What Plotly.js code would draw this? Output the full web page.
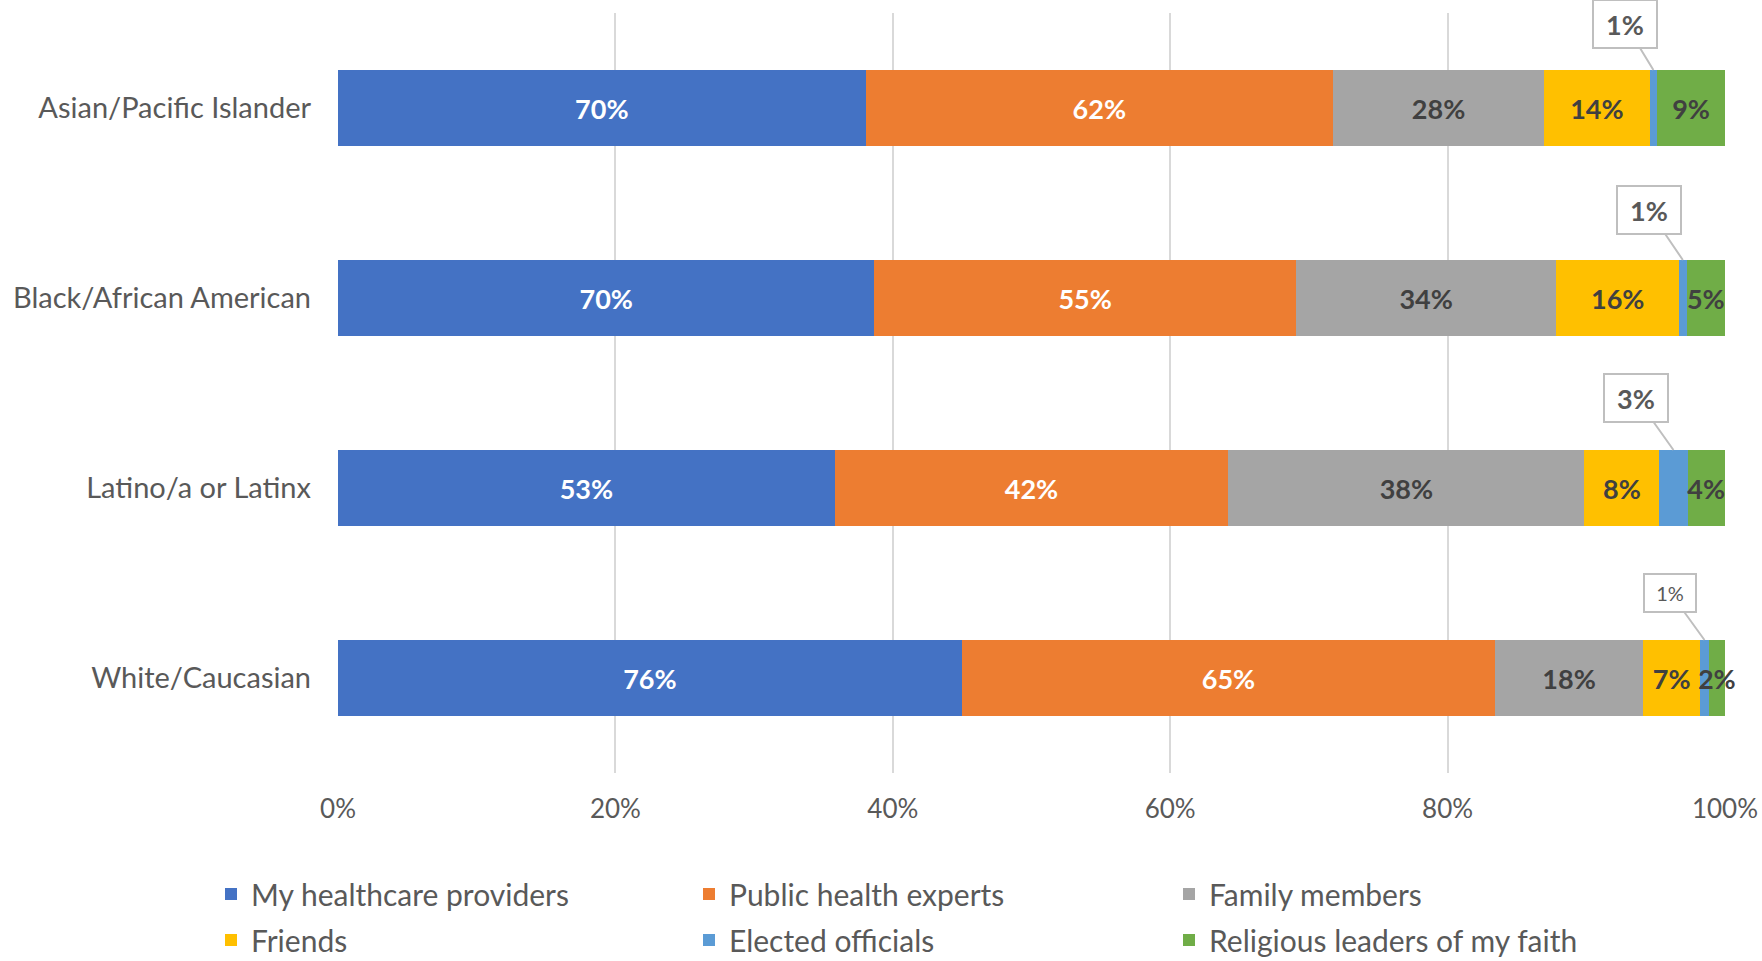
<!DOCTYPE html>
<html>
<head>
<meta charset="utf-8">
<script src="https://cdn.plot.ly/plotly-3.0.1.min.js"></script>
<style>html,body{margin:0;padding:0;background:#fff;}#chart{width:1762px;height:961px;}</style>
</head>
<body>
<div id="chart"></div>
<script>
const categories = ['Asian/Pacific Islander', 'Black/African American', 'Latino/a or Latinx', 'White/Caucasian'];
const seriesNames = ['My healthcare providers', 'Public health experts', 'Family members', 'Friends', 'Elected officials', 'Religious leaders of my faith'];
const healthcareProviders = [70, 70, 53, 76];
const publicHealthExperts = [62, 55, 42, 65];
const familyMembers = [28, 34, 38, 18];
const friends = [14, 16, 8, 7];
const electedOfficials = [1, 1, 3, 1];
const religiousLeaders = [9, 5, 4, 2];
const xTickVals = [0, 20, 40, 60, 80, 100];
const xTickText = ['0%', '20%', '40%', '60%', '80%', '100%'];

const seriesValues = [healthcareProviders, publicHealthExperts, familyMembers, friends, electedOfficials, religiousLeaders];
const colors = ['#4472C4', '#ED7D31', '#A5A5A5', '#FFC000', '#5B9BD5', '#70AD47'];
const textColors = ['#FFFFFF', '#FFFFFF', '#404040', '#404040', '#404040', '#404040'];
const FONT = 'Lato, "Open Sans", sans-serif';
const bargap = 0.6;

const legendIds = ['legend', 'legend2', 'legend3', 'legend4', 'legend5', 'legend6'];

const traces = seriesValues.map((vals, i) => ({
  type: 'bar',
  orientation: 'h',
  name: seriesNames[i],
  y: categories,
  x: vals,
  marker: {color: colors[i], line: {width: 0}},
  text: i === 4 ? vals.map(() => '') : vals.map(v => v + '%'),
  textposition: i === 4 ? 'none' : 'inside',
  insidetextanchor: 'middle',
  textangle: 0,
  constraintext: 'none',
  cliponaxis: false,
  textfont: {family: FONT, size: 27, color: textColors[i], weight: 'bold'},
  hoverinfo: 'skip',
  legend: legendIds[i]
}));

// callouts for elected officials
const totals = categories.map((c, k) => seriesValues.reduce((s, arr) => s + arr[k], 0));
const calloutOffsets = [[-28, -46], [-34, -50], [-37, -52], [-34, -47]];
const annotations = categories.map((c, k) => {
  const before = healthcareProviders[k] + publicHealthExperts[k] + familyMembers[k] + friends[k];
  const mid = (before + electedOfficials[k] / 2) / totals[k] * 100;
  const small = k === 3;
  return {
    x: mid, y: k - (1 - bargap) / 2, xref: 'x', yref: 'y',
    text: electedOfficials[k] + '%',
    showarrow: true, arrowhead: 0, arrowwidth: 2, arrowcolor: '#BFBFBF', standoff: 0,
    ax: calloutOffsets[k][0], ay: calloutOffsets[k][1],
    bordercolor: '#BFBFBF', borderwidth: 2, bgcolor: '#FFFFFF',
    width: small ? 48 : 60, height: small ? 34 : 44,
    font: {family: FONT, size: small ? 20 : 27, color: '#595959', weight: small ? 'normal' : 'bold'}
  };
});

const legendCols = [211, 689, 1169];
const legendRows = [868, 914];

const layout = {
  width: 1762, height: 961,
  paper_bgcolor: '#FFFFFF', plot_bgcolor: '#FFFFFF',
  margin: {l: 338, r: 37, t: 13, b: 188},
  barmode: 'stack', barnorm: 'percent', bargap: bargap,
  uniformtext: {mode: 'show', minsize: 27},
  showlegend: true,
  xaxis: {
    range: [0, 100], tickvals: xTickVals, ticktext: xTickText,
    showgrid: true, gridcolor: '#D9D9D9', gridwidth: 2,
    zeroline: false, showline: false, ticks: '',
    ticklabelstandoff: 18,
    tickfont: {family: FONT, size: 26, color: '#595959'}
  },
  yaxis: {
    type: 'category', autorange: 'reversed',
    showgrid: false, zeroline: false, showline: false, ticks: '',
    ticklabelstandoff: 26,
    tickfont: {family: FONT, size: 29, color: '#595959'}
  },
  annotations: annotations
};

legendIds.forEach((id, i) => {
  layout[id] = {
    orientation: 'h', xref: 'container', yref: 'container',
    x: legendCols[i % 3] / 1762, y: 1 - legendRows[Math.floor(i / 3)] / 961,
    xanchor: 'left', yanchor: 'top',
    font: {family: FONT, size: 30, color: '#595959'},
    bgcolor: 'rgba(0,0,0,0)'
  };
});

Plotly.newPlot('chart', traces, layout, {displayModeBar: false, staticPlot: true});
</script>
</body>
</html>
